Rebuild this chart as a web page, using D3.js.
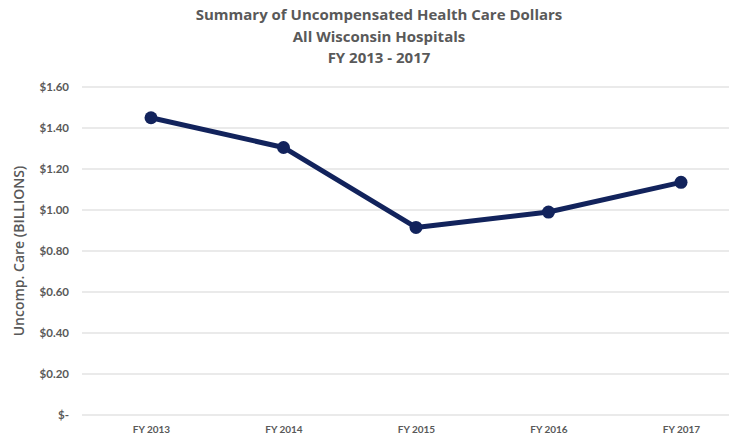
<!DOCTYPE html>
<html><head><meta charset="utf-8">
<script src="https://cdn.jsdelivr.net/npm/d3@7"></script>
<style>body{margin:0;background:#fff;}svg{display:block;font-family:Lato,"Open Sans",sans-serif;}</style>
</head><body>
<svg id="c" width="729" height="438"></svg>
<script>
const categories = ["FY 2013","FY 2014","FY 2015","FY 2016","FY 2017"];
const values = [1.45, 1.305, 0.915, 0.99, 1.135];
const yTicks = [0,0.2,0.4,0.6,0.8,1.0,1.2,1.4,1.6];
const titleLines = ["Summary of Uncompensated Health Care Dollars","All Wisconsin Hospitals","FY 2013 - 2017"];

const svg = d3.select("#c");
const x = d3.scalePoint().domain(categories).range([151, 681]);
const y = d3.scaleLinear().domain([0,1.6]).range([415, 87]);
const fmt = v => v === 0 ? "$-" : "$" + v.toFixed(2);

// gridlines
svg.append("g").selectAll("line").data(yTicks).join("line")
  .attr("x1", 82).attr("x2", 729)
  .attr("y1", d => y(d)).attr("y2", d => y(d))
  .attr("stroke", "#e3e3e3").attr("stroke-width", 1.5);

// y axis labels
const ya = svg.append("g").attr("transform","translate(69,0)")
  .call(d3.axisLeft(y).tickValues(yTicks).tickFormat(fmt).tickSize(0).tickPadding(0));
ya.select(".domain").remove();
ya.selectAll("text").attr("fill","#595959").attr("font-size",11.5).attr("font-weight","bold")
  .attr("font-family","Lato,'Open Sans',sans-serif");

// x axis labels
const xa = svg.append("g").attr("transform","translate(0,426)")
  .call(d3.axisBottom(x).tickSize(0).tickPadding(0));
xa.select(".domain").remove();
xa.selectAll("text").attr("fill","#595959").attr("font-size",10).attr("font-weight","bold")
  .attr("font-family","Lato,'Open Sans',sans-serif");

// line
const data = categories.map((c,i)=>({c, v: values[i]}));
svg.append("path").datum(data)
  .attr("fill","none").attr("stroke","#12235c").attr("stroke-width",5)
  .attr("stroke-linejoin","round")
  .attr("d", d3.line().x(d=>x(d.c)).y(d=>y(d.v)));
svg.append("g").selectAll("circle").data(data).join("circle")
  .attr("cx", d=>x(d.c)).attr("cy", d=>y(d.v)).attr("r",6.5).attr("fill","#12235c");

// title
svg.append("g").selectAll("text").data(titleLines).join("text")
  .attr("x", 379).attr("y", (d,i)=> 20 + i*21.5)
  .attr("text-anchor","middle").attr("font-size",15).attr("font-weight","bold")
  .attr("font-family","'Open Sans',sans-serif")
  .attr("fill","#595959").text(d=>d);

// y title
svg.append("text").attr("transform","translate(24,251) rotate(-90)")
  .attr("text-anchor","middle").attr("font-size",14).attr("font-weight","600")
  .attr("font-family","'Open Sans',sans-serif")
  .attr("fill","#595959").text("Uncomp. Care (BILLIONS)");
</script>
</body></html>
